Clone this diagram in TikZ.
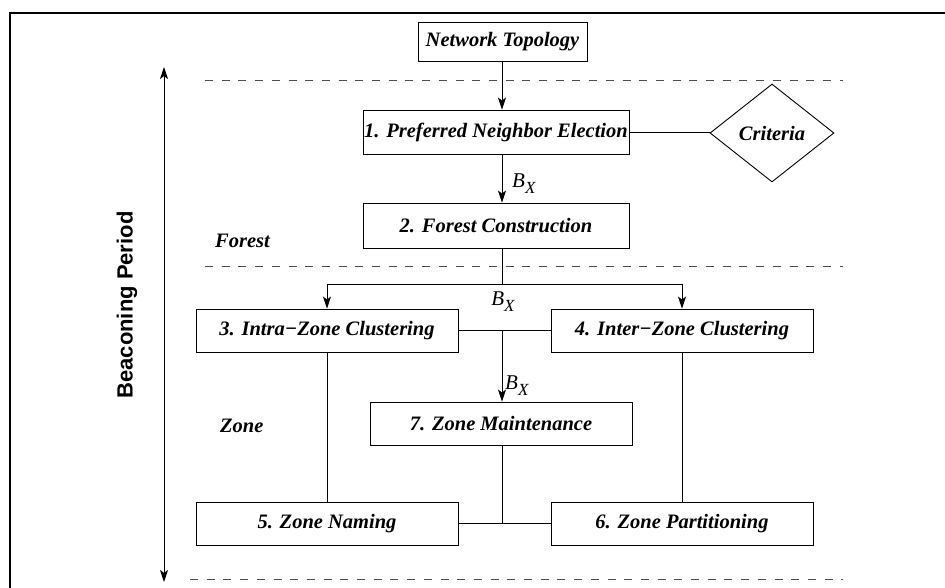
\documentclass[tikz,border=0pt]{standalone}
\usepackage{fontspec}
\setmainfont{Liberation Serif}
\newfontfamily\labelsans{Liberation Sans}
\usetikzlibrary{arrows.meta,shapes.geometric}

\tikzset{
  stepbox/.style={draw, line width=0.9pt, minimum width=262pt, minimum height=43pt,
    inner sep=0pt, font=\fontsize{20.5}{24}\selectfont\bfseries\itshape},
  link/.style={line width=0.9pt},
  flow/.style={line width=0.9pt, -{Stealth[length=12pt,width=8pt,inset=3pt]}},
  phase/.style={draw=black!70, line width=0.9pt, dash pattern=on 8pt off 8.7pt},
  tag/.style={font=\fontsize{20.5}{24}\selectfont\bfseries\itshape, anchor=west, inner sep=0pt},
  bx/.style={font=\fontsize{21}{24}\selectfont\itshape, inner sep=0pt}
}
% bandwidth label: italic B with a lowered italic X
\newcommand{\BX}{B\raisebox{-6pt}{\fontsize{17}{20}\selectfont X}}

\begin{document}
\begin{tikzpicture}[x=1pt,y=-1pt]
  \useasboundingbox (0,0) rectangle (945,588);

  % outer frame
  \draw[line width=2pt] (9.5,588) -- (9.5,13) -- (945,13);

  % phase separators
  \coordinate (d1a) at (205,80);  \coordinate (d1b) at (843,80);
  \coordinate (d2a) at (205,266); \coordinate (d2b) at (843,266);
  \coordinate (d3a) at (190,579); \coordinate (d3b) at (843,579);
  \draw[phase] (d1a) -- (d1b);
  \draw[phase] (d2a) -- (d2b);
  \draw[phase] (d3a) -- (d3b);

  % beaconing period axis
  \coordinate (bt) at (164,67);
  \coordinate (bb) at (164,582);
  \draw[line width=0.9pt, {Stealth[length=12pt,width=8pt,inset=3pt]}-{Stealth[length=12pt,width=8pt,inset=3pt]}] (bt) -- (bb);
  \node[rotate=90, font=\labelsans\fontsize{22}{26}\selectfont\bfseries] (bp) at (127,305) {Beaconing Period};

  % boxes
  \node[stepbox, minimum width=169pt, minimum height=39pt] (nt) at (502.5,42) {Network Topology};
  \node[stepbox, minimum width=266pt, minimum height=44pt] (b1) at (496,132) {1. Preferred Neighbor Election};
  \node[draw, diamond, line width=0.9pt, minimum width=124pt, minimum height=98pt, inner sep=0pt,
        font=\fontsize{20.5}{24}\selectfont\bfseries\itshape] (cr) at (772,133) {Criteria};
  \node[stepbox, minimum width=266pt, minimum height=45pt] (b2) at (496,225.5) {2. Forest Construction};
  \node[stepbox] (b3) at (327,330.5) {3. Intra−Zone Clustering};
  \node[stepbox] (b4) at (682,330.5) {4. Inter−Zone Clustering};
  \node[stepbox] (b7) at (501,423.5) {7. Zone Maintenance};
  \node[stepbox] (b5) at (327,523.5) {5. Zone Naming};
  \node[stepbox] (b6) at (682,523.5) {6. Zone Partitioning};

  % region tags
  \node[tag] (forest) at (215,241) {Forest};
  \node[tag] (zone) at (220,426) {Zone};

  % connectors
  \coordinate (c0) at (502,61);
  \draw[flow] (c0) -- (c0 |- b1.north);
  \draw[link] (b1.east) -- (b1.east -| cr.west);
  \coordinate (c1) at (502,154);
  \draw[flow] (c1) -- (c1 |- b2.north);
  \node[bx, anchor=west] (l1) at (512,184) {\BX};

  \coordinate (c2) at (502,248);
  \coordinate (br) at (502,284);
  \draw[link] (c2) -- (br);
  \draw[flow] (br) -| (b3.north);
  \draw[flow] (br) -| (b4.north);
  \node[bx] (l2) at (503,302) {\BX};

  \draw[link] (b3.east) -- (b4.west);
  \coordinate (c3) at (502,330.5);
  \draw[flow] (c3) -- (c3 |- b7.north);
  \node[bx, anchor=west] (l3) at (505,386) {\BX};

  \draw[link] (b3.south) -- (b5.north);
  \draw[link] (b4.south) -- (b6.north);
  \draw[link] (b5.east) -- (b6.west);
  \coordinate (c4) at (502,445);
  \draw[link] (c4) -- (c4 |- b5.east);
\end{tikzpicture}
\end{document}
